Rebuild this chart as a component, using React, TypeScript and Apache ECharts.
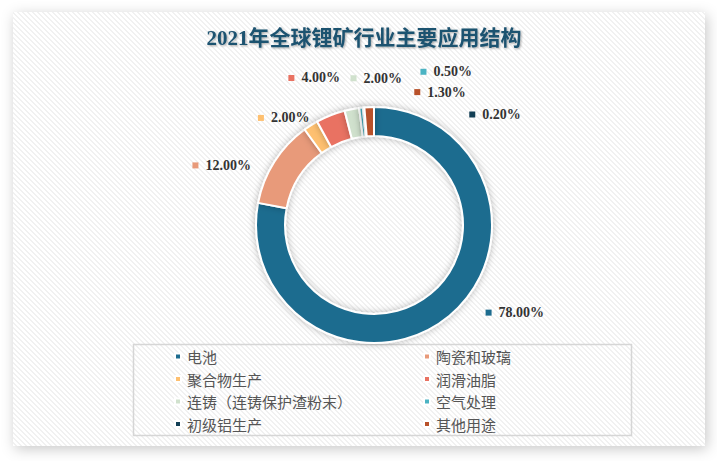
import React, { useEffect, useRef } from "react";
import * as echarts from "echarts";

const titleText = "2021年全球锂矿行业主要应用结构";
const categories = ["电池", "陶瓷和玻璃", "聚合物生产", "润滑油脂", "连铸（连铸保护渣粉末）", "空气处理", "初级铝生产", "其他用途"];
const shares = [78, 12, 2, 4, 2, 0.5, 0.2, 1.3];
const colors = ["#1d6c8f", "#e89a7a", "#fec070", "#e97262", "#d0e1cd", "#4bb3c3", "#133f55", "#b8512a"];
const legendLeft = ["电池", "聚合物生产", "连铸（连铸保护渣粉末）", "初级铝生产"];
const legendRight = ["陶瓷和玻璃", "润滑油脂", "空气处理", "其他用途"];

function makeStripe(): string {
  const size = 5;
  const c = document.createElement("canvas");
  c.width = size;
  c.height = size;
  const ctx = c.getContext("2d")!;
  const img = ctx.createImageData(size, size);
  for (let y = 0; y < size; y++) {
    for (let x = 0; x < size; x++) {
      const k = (((x - y) % size) + size) % size;
      const v = k < 2 ? 241 : 255;
      const i = (y * size + x) * 4;
      img.data[i] = v;
      img.data[i + 1] = v;
      img.data[i + 2] = v;
      img.data[i + 3] = 255;
    }
  }
  ctx.putImageData(img, 0, 0);
  return c.toDataURL();
}

export default function App() {
  const ref = useRef<HTMLDivElement>(null);
  useEffect(() => {
    if (!ref.current) return;
    const chart = echarts.init(ref.current, undefined, { renderer: "svg" });
    const stripe = makeStripe();
    // nudges applied to the library's default outside-label positions
    const labelNudge: [number, number][] = [
      [15, -11],
      [0, 9],
      [19, 1],
      [28, -28],
      [67, -21],
      [127, -26],
      [173, 17],
      [112, -5],
    ];
    const data = categories.map((name, i) => ({
      name,
      value: shares[i],
      itemStyle: { color: colors[i] },
      label: {
        rich: {
          sq: { width: 6, height: 6, backgroundColor: colors[i] },
        },
      },
    }));
    const legendCommon = {
      orient: "vertical" as const,
      icon: "rect",
      itemWidth: 6,
      itemHeight: 6,
      itemGap: 7.5,
      padding: 0,
      top: 349,
      textStyle: {
        fontFamily: "Noto Sans CJK SC",
        fontSize: 15,
        lineHeight: 15,
        color: "#555",
        padding: [0, 0, 0, 1],
      },
    };
    chart.setOption({
      animation: false,
      backgroundColor: "#ffffff",
      title: {
        text: titleText,
        left: 359,
        textAlign: "center",
        top: 22,
        textStyle: {
          fontFamily: "Liberation Serif, Noto Sans CJK SC",
          fontWeight: "bold",
          fontSize: 21,
          color: "#1d5270",
          textShadowColor: "rgba(0,0,0,0.35)",
          textShadowBlur: 2,
          textShadowOffsetX: 1,
          textShadowOffsetY: 1,
        },
      },
      graphic: {
        elements: [
          {
            type: "rect",
            z: -10,
            shape: { x: 13, y: 12, width: 692, height: 434 },
            style: {
              fill: { image: stripe, repeat: "repeat" },
              shadowBlur: 14,
              shadowColor: "rgba(0,0,0,0.22)",
              shadowOffsetX: 2,
              shadowOffsetY: 3,
            },
          },
          {
            type: "rect",
            z: -5,
            shape: { x: 133.5, y: 344.5, width: 498, height: 91 },
            style: { fill: "none", stroke: "#d6d6d6", lineWidth: 1.5 },
          },
        ],
      },
      legend: [
        { ...legendCommon, left: 174, data: legendLeft },
        { ...legendCommon, left: 423, data: legendRight },
      ],
      series: [
        {
          type: "pie",
          center: [374, 225],
          radius: [89, 118],
          startAngle: 90,
          clockwise: true,
          avoidLabelOverlap: false,
          itemStyle: {
            borderColor: "#ffffff",
            borderWidth: 2,
            shadowBlur: 7,
            shadowColor: "rgba(0,0,0,0.28)",
          },
          label: {
            show: true,
            position: "outside",
            formatter: (p: any) => `{sq|}  ${p.value.toFixed(2)}%`,
            fontFamily: "Liberation Serif",
            fontWeight: "bold",
            fontSize: 14,
            color: "#333",
          },
          labelLine: { show: false, length: 10, length2: 10 },
          labelLayout: (params: any) => {
            const n = labelNudge[params.dataIndex] || [0, 0];
            return { dx: n[0], dy: n[1] };
          },
          emphasis: { disabled: true },
          data,
        },
      ],
    });
    return () => chart.dispose();
  }, []);
  return (
    <div
      ref={ref}
      style={{ position: "absolute", left: 0, top: 0, width: 717, height: 461 }}
    />
  );
}
